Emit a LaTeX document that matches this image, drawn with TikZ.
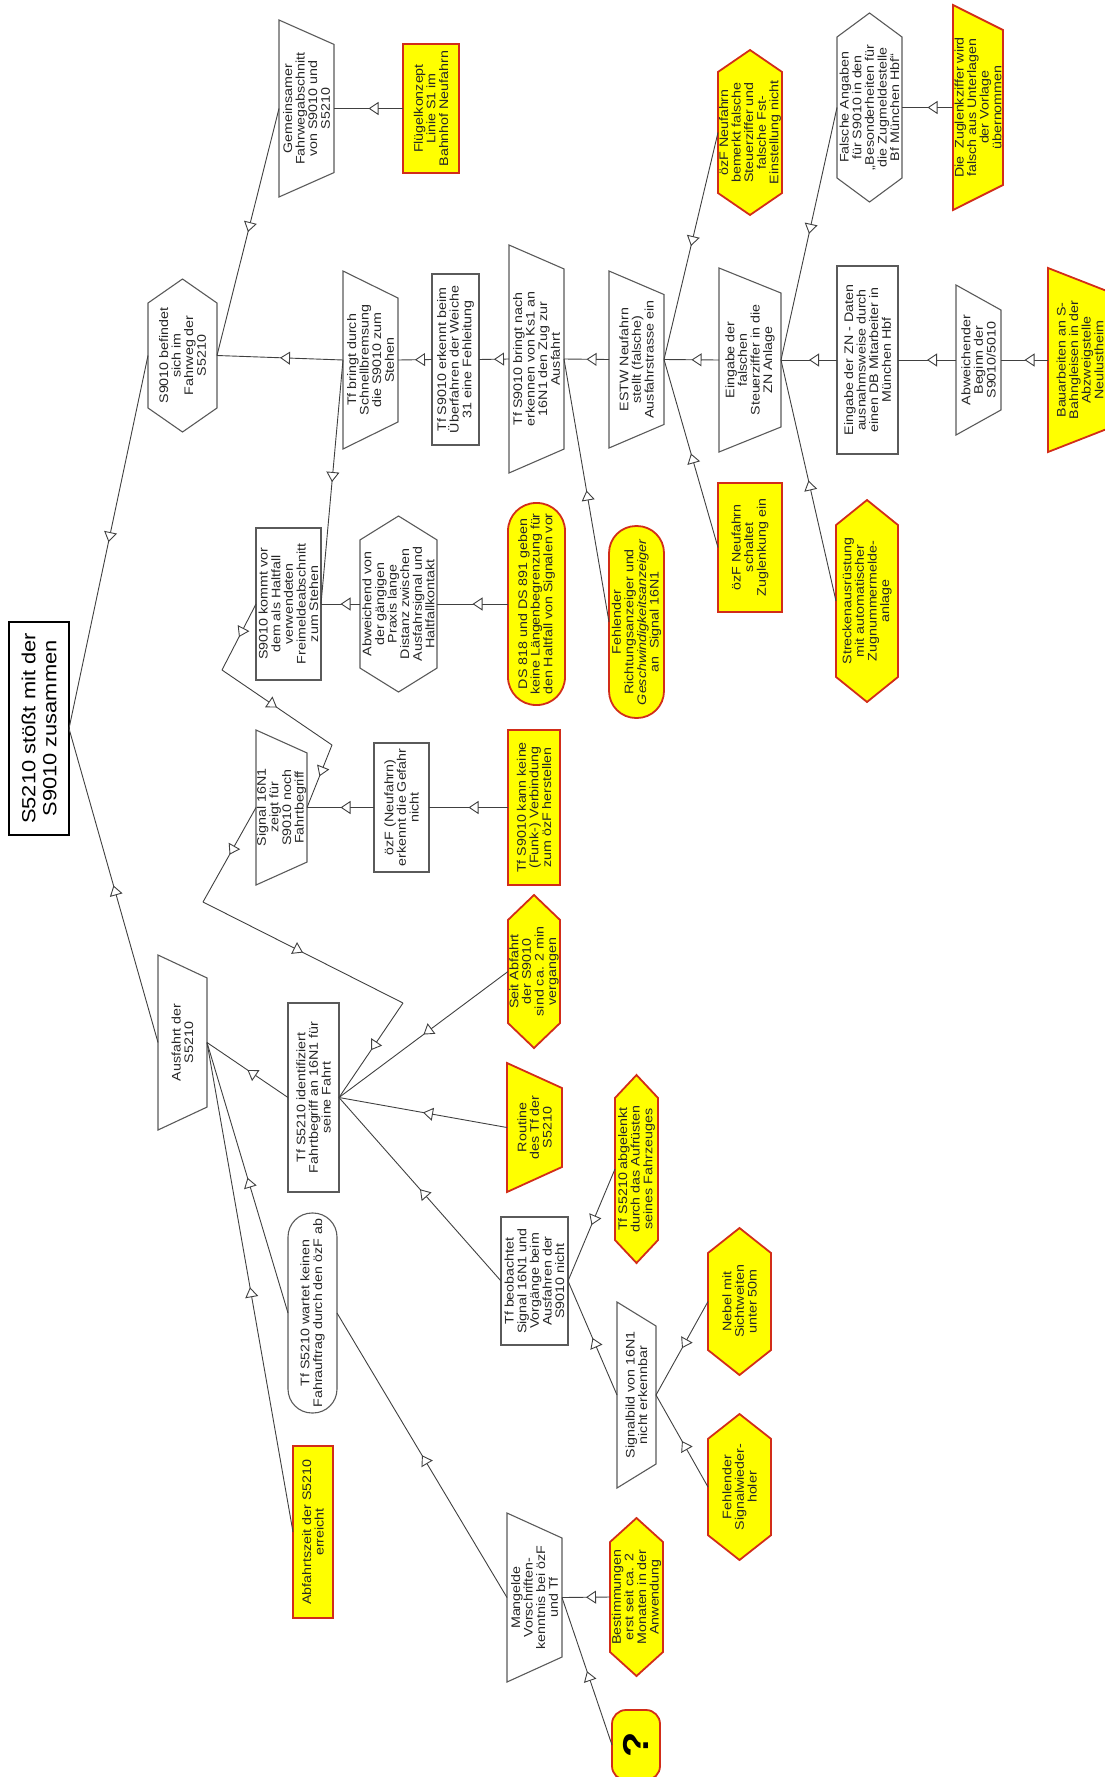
\documentclass[tikz,border=0pt]{standalone}
\usepackage{fontspec}
\newfontfamily\diafont{Liberation Sans}[FakeStretch=1.15]
\usetikzlibrary{arrows.meta,decorations.markings,calc,backgrounds}
\definecolor{yred}{RGB}{210,45,25}
\definecolor{ybg}{RGB}{255,255,0}
\definecolor{gborder}{RGB}{90,90,90}
\newcommand\diatxt{\diafont\fontsize{12.4}{12.6}\selectfont}
\newcommand\TrapShape[3]{\begin{pgfonlayer}{background}\path[#1] (#2.north west) -- (#2.north east) -- ($(#2.south east)!#3!(#2.south west)$) -- ($(#2.south west)!#3!(#2.south east)$) -- cycle;\end{pgfonlayer}}
\newcommand\HexShape[3]{\begin{pgfonlayer}{background}\path[#1] (#2.west) -- ($(#2.north west)!#3!(#2.north east)$) -- ($(#2.north east)!#3!(#2.north west)$) -- (#2.east) -- ($(#2.south east)!#3!(#2.south west)$) -- ($(#2.south west)!#3!(#2.south east)$) -- cycle;\end{pgfonlayer}}
\begin{document}
\begin{tikzpicture}[x=1pt,y=-1pt,
 nbase/.style={rotate=90, inner sep=0pt, outer sep=0pt, align=center, font=\diatxt, text=black!85},
 grect/.style={nbase, draw=gborder, line width=1.1pt, fill=white},
 yrect/.style={nbase, draw=yred, line width=1.8pt, fill=ybg},
 bare/.style={nbase},
 gline/.style={draw=gborder, line width=1.1pt, fill=white, line join=miter},
 yline/.style={draw=yred, line width=1.8pt, fill=ybg, line join=miter},
 conn/.style={draw=black!75, line width=0.9pt, postaction={decorate},
   decoration={markings, mark=at position 0.5 with {\arrow{Triangle[length=10pt,width=13pt,fill=white]}}}}]
\useasboundingbox (0,0) rectangle (1104,1777);
\clip (0,0) rectangle (1104,1777);

% ---------- nodes ----------
\node[grect, line width=1.8pt, draw=black, text=black, font=\diafont\fontsize{19}{21}\selectfont,
  minimum width=213pt, minimum height=60pt] (root) at (39,728.5) {S5210 stößt mit der\\S9010 zusammen};

\node[bare, minimum width=153pt, minimum height=69pt] (hexS) at (182.5,355.5) {S9010 befindet\\sich im\\Fahrweg der\\S5210};
\HexShape{gline}{hexS}{0.157}

\node[bare, minimum width=177pt, minimum height=55pt] (gem) at (306.5,108.5) {Gemeinsamer\\Fahrwegabschnitt\\von S9010 und\\S5210};
\TrapShape{gline}{gem}{0.138}

\node[yrect, minimum width=129pt, minimum height=56pt] (fluegel) at (431,108.5) {Flügelkonzept\\Linie S1 im\\Bahnhof Neufahrn};

\node[bare, minimum width=178pt, minimum height=55pt] (tfbringt) at (370.5,360) {Tf bringt durch\\Schnellbremsung\\die S9010 zum\\Stehen};
\TrapShape{gline}{tfbringt}{0.152}

\node[grect, minimum width=171pt, minimum height=47pt] (erkennt) at (455.5,359.5) {Tf S9010 erkennt beim\\Überfahren der Weiche\\31 eine Fehleitung};

\node[bare, minimum width=228pt, minimum height=55pt] (bringt) at (536.5,359) {Tf S9010 bringt nach\\erkennen von Ks1 an\\16N1 den Zug zur\\Ausfahrt};
\TrapShape{gline}{bringt}{0.105}

\node[bare, minimum width=177pt, minimum height=55pt] (estw) at (636.5,359.5) {ESTW Neufahrn\\stellt (falsche)\\Ausfahrstrasse ein};
\TrapShape{gline}{estw}{0.133}

\node[bare, minimum width=184pt, minimum height=62pt] (eingF) at (750,360) {Eingabe der\\falschen\\Steuerziffer in die\\ZN Anlage};
\TrapShape{gline}{eingF}{0.136}

\node[grect, minimum width=188pt, minimum height=61pt] (eingZN) at (867.5,360) {Eingabe der ZN - Daten\\ausnahmsweise durch\\einen DB Mitarbeiter in\\München Hbf};

\node[bare, minimum width=150pt, minimum height=45pt] (abwB) at (978.5,360) {Abweichender\\Beginn der\\S9010/5010};
\TrapShape{gline}{abwB}{0.167}

\node[bare, minimum width=184pt, minimum height=64pt] (bau) at (1080,360) {Bauarbeiten an S-\\Bahngleisen in der\\Abzweigstelle\\Neulustheim};
\TrapShape{yline}{bau}{0.136}

\node[bare, minimum width=205pt, minimum height=50pt] (zugl) at (978,107.5) {Die\ \ Zuglenkziffer wird\\falsch aus Unterlagen\\der Vorlage\\übernommen};
\TrapShape{yline}{zugl}{0.122}

\node[bare, minimum width=189pt, minimum height=65pt] (falsch) at (869.5,107.5) {Falsche Angaben\\für S9010 in den\\„Besonderheiten für\\die Zugmeldestelle\\Bf München Hbf“};
\HexShape{gline}{falsch}{0.127}

\node[bare, minimum width=165pt, minimum height=64pt] (bemerkt) at (750,132.5) {özF Neufahrn\\bemerkt falsche\\Steuerziffer und\\falsche Fst-\\Einstellung nicht};
\HexShape{yline}{bemerkt}{0.133}

\node[yrect, minimum width=129pt, minimum height=64pt] (schaltet) at (750,547.5) {özF Neufahrn\\schaltet\\Zuglenkung ein};

\node[bare, minimum width=202pt, minimum height=62pt] (strecke) at (867,601) {Streckenausrüstung\\mit automatischer\\Zugnummermelde-\\anlage};
\HexShape{yline}{strecke}{0.124}

\node[bare, minimum width=155pt, minimum height=51pt] (sig) at (281.5,807.5) {Signal 16N1\\zeigt für\\S9010 noch\\Fahrtbegriff};
\TrapShape{gline}{sig}{0.148}

\node[grect, minimum width=152pt, minimum height=65pt] (kommt) at (288.5,604) {S9010 kommt vor\\dem als Haltfall\\verwendeten\\Freimeldeabschnitt\\zum Stehen};

\node[bare, minimum width=176pt, minimum height=77pt] (abwV) at (398.5,604) {Abweichend von\\der gängigen\\Praxis lange\\Distanz zwischen\\Ausfahrsignal und\\Haltfallkontakt};
\HexShape{gline}{abwV}{0.136}

\node[yrect, rounded corners=28pt, minimum width=202pt, minimum height=57pt] (ds) at (536.5,604) {DS 818 und DS 891 geben\\keine Längenbegrenzung für\\den Haltfall von Signalen vor};

\node[grect, minimum width=129pt, minimum height=55pt] (ozfE) at (401.5,807.5) {özF (Neufahrn)\\erkennt die Gefahr\\nicht};

\node[yrect, minimum width=155pt, minimum height=52pt] (kann) at (534,807.5) {Tf S9010 kann keine\\(Funk-) Verbindung\\zum özF herstellen};

\node[yrect, rounded corners=27pt, minimum width=192pt, minimum height=55pt] (richt) at (636.5,622) {Fehlender\\Richtungsanzeiger und\\\textit{Geschwindigkeitsanzeiger}\\an\ \ Signal 16N1};

\node[bare, minimum width=175pt, minimum height=49pt] (ausf) at (182.5,1042.5) {Ausfahrt der\\S5210};
\TrapShape{gline}{ausf}{0.131}

\node[grect, minimum width=189pt, minimum height=51pt] (ident) at (313.5,1097.5) {Tf S5210 identifiziert\\Fahrtbegriff an 16N1 für\\seine Fahrt};

\node[grect, rounded corners=24pt, minimum width=200pt, minimum height=49pt] (wartet) at (312.5,1313) {Tf S5210 wartet keinen\\Fahrauftrag durch den özF ab};

\node[yrect, minimum width=172pt, minimum height=40pt] (abfz) at (313,1532) {Abfahrtszeit der S5210\\erreicht};

\node[bare, minimum width=153pt, minimum height=52pt] (seit) at (534,971.5) {Seit Abfahrt\\der S9010\\sind ca. 2 min\\vergangen};
\HexShape{yline}{seit}{0.163}

\node[bare, minimum width=129pt, minimum height=55pt] (routine) at (534.5,1127.5) {Routine\\des Tf der\\S5210};
\TrapShape{yline}{routine}{0.194}

\node[grect, minimum width=128pt, minimum height=67pt] (beob) at (534.5,1281) {Tf beobachtet\\Signal 16N1 und\\Vorgänge beim\\Ausfahren der\\S9010 nicht};

\node[bare, minimum width=188pt, minimum height=43pt] (abgel) at (636.5,1169) {Tf S5210 abgelenkt\\durch das Aufrüsten\\seines Fahrzeuges};
\HexShape{yline}{abgel}{0.122}

\node[bare, minimum width=186pt, minimum height=39pt] (sbild) at (636.5,1395) {Signalbild von 16N1\\nicht erkennbar};
\TrapShape{gline}{sbild}{0.129}

\node[bare, minimum width=147pt, minimum height=63pt] (nebel) at (739.5,1301.5) {Nebel mit\\Sichtweiten\\unter 50m};
\HexShape{yline}{nebel}{0.17}

\node[bare, minimum width=146pt, minimum height=63pt] (fsw) at (739.5,1487) {Fehlender\\Signalwieder-\\holer};
\HexShape{yline}{fsw}{0.17}

\node[bare, minimum width=169pt, minimum height=55pt] (mang) at (534.5,1597.5) {Mangelde\\Vorschriften-\\kenntnis bei özF\\und Tf};
\TrapShape{gline}{mang}{0.148}

\node[bare, minimum width=158pt, minimum height=53pt] (best) at (636.5,1597) {Bestimmungen\\erst seit ca. 2\\Monaten in der\\Anwendung};
\HexShape{yline}{best}{0.152}

\node[yrect, rounded corners=14pt, minimum width=70pt, minimum height=48pt, text=black,
  font=\diafont\bfseries\fontsize{36}{36}\selectfont] (quest) at (636,1745) {?};

% ---------- bend points ----------
\coordinate (pA1) at (222,670);
\coordinate (pA2) at (332,745);
\coordinate (pB1) at (203,902);
\coordinate (pB2) at (403,1003);

% ---------- connectors (cause -> effect) ----------
\draw[conn] (hexS.north) -- (root.south);
\draw[conn] (ausf.north) -- (root.south);
\draw[conn] (gem.north) -- (hexS.south);
\draw[conn] (tfbringt.north) -- (hexS.south);
\draw[conn] (fluegel.north) -- (gem.south);
\draw[conn] (erkennt.north) -- (tfbringt.south);
\draw[conn] (bringt.north) -- (erkennt.south);
\draw[conn] (estw.north) -- (bringt.south);
\draw[conn] (richt.north) -- (bringt.south);
\draw[conn] (eingF.north) -- (estw.south);
\draw[conn] (bemerkt.north) -- (estw.south);
\draw[conn] (schaltet.north) -- (estw.south);
\draw[conn] (eingZN.north) -- (eingF.south);
\draw[conn] (falsch.north) -- (eingF.south);
\draw[conn] (strecke.north) -- (eingF.south);
\draw[conn] (abwB.north) -- (eingZN.south);
\draw[conn] (bau.north) -- (abwB.south);
\draw[conn] (zugl.north) -- (falsch.south);
\draw[conn] (tfbringt.north) -- (kommt.south);
\draw[conn] (abwV.north) -- (kommt.south);
\draw[conn] (ds.north) -- (abwV.south);
\draw[conn] (kommt.north) -- (pA1);
\draw[conn] (pA1) -- (pA2);
\draw[conn] (pA2) -- (sig.south);
\draw[conn] (ozfE.north) -- (sig.south);
\draw[conn] (kann.north) -- (ozfE.south);
\draw[conn] (sig.north) -- (pB1);
\draw[conn] (pB1) -- (pB2);
\draw[conn] (pB2) -- (ident.south);
\draw[conn] (ident.north) -- (ausf.south);
\draw[conn] (wartet.north) -- (ausf.south);
\draw[conn] (abfz.north) -- (ausf.south);
\draw[conn] (mang.north) -- (wartet.south);
\draw[conn] (seit.north) -- (ident.south);
\draw[conn] (routine.north) -- (ident.south);
\draw[conn] (beob.north) -- (ident.south);
\draw[conn] (abgel.north) -- (beob.south);
\draw[conn] (sbild.north) -- (beob.south);
\draw[conn] (nebel.north) -- (sbild.south);
\draw[conn] (fsw.north) -- (sbild.south);
\draw[conn] (best.north) -- (mang.south);
\draw[conn] (quest.north) -- (mang.south);
\end{tikzpicture}
\end{document}
